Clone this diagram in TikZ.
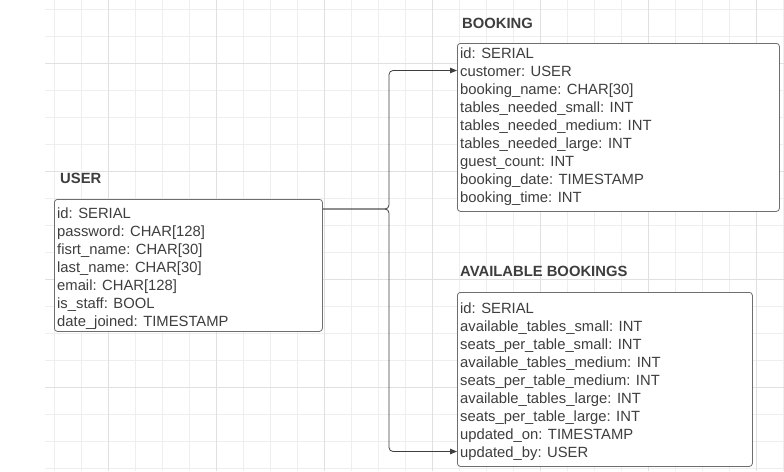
\documentclass[tikz,border=0pt]{standalone}
\usepackage{fontspec}
\setmainfont{Liberation Sans}
\usepackage{xcolor}
\usetikzlibrary{arrows.meta}
\definecolor{gridminor}{RGB}{238,238,238}
\definecolor{gridmajor}{RGB}{224,224,224}
\definecolor{ink}{RGB}{62,62,62}
\definecolor{edge}{RGB}{110,110,110}
\tikzset{
  tablebox/.style={draw=edge, line width=0.8pt, rounded corners=3pt, anchor=north west, fill=white},
  tabletitle/.style={anchor=base west, inner sep=0pt, text=ink, font=\fontsize{14.8}{18}\selectfont\bfseries},
  field/.style={anchor=base west, inner xsep=3pt, inner ysep=0pt, text height=11pt, text depth=0pt, text=ink, font=\fontsize{14.8}{18}\selectfont},
  link/.style={draw=ink, line width=0.8pt, rounded corners=4pt, -{Triangle[length=7pt,width=5.5pt]}},
}

\begin{document}
\begin{tikzpicture}[x=1pt,y=-1pt]
		\useasboundingbox (0,0) rectangle (784,471);
		%% Background grid
		\foreach \x in {54,81,...,783} \draw[gridminor, line width=0.6pt] (\x,0) -- (\x,471);
		\foreach \y in {9,36,...,468} \draw[gridminor, line width=0.6pt] (45,\y) -- (784,\y);
		\foreach \x in {108,216,...,756} \draw[gridmajor, line width=0.6pt] (\x,0) -- (\x,471);
		\foreach \y in {63,171,...,387} \draw[gridmajor, line width=0.6pt] (45,\y) -- (784,\y);

		%% USER
		\node[tabletitle] (user-title) at (60,183) {USER};
		\node[tablebox, minimum width=268pt, minimum height=132pt] (user) at (54,199) {};
		\foreach \t [count=\i] in {id: SERIAL, password: CHAR[128], fisrt\_name: CHAR[30],
			last\_name: CHAR[30], email: CHAR[128], is\_staff: BOOL, date\_joined: TIMESTAMP}
			\node[field] (us-\i) at (54,{200+18*\i}) {\t};

		%% BOOKING
		\node[tabletitle] (booking-title) at (462,28) {BOOKING};
		\node[tablebox, minimum width=322pt, minimum height=168pt] (booking) at (457,43) {};
		\foreach \t [count=\i] in {id: SERIAL, customer: USER, booking\_name: CHAR[30],
			tables\_needed\_small: INT, tables\_needed\_medium: INT, tables\_needed\_large: INT,
			guest\_count: INT, booking\_date: TIMESTAMP, booking\_time: INT}
			\node[field] (bk-\i) at (457,{40+18*\i}) {\t};

		%% AVAILABLE BOOKINGS
		\node[tabletitle] (avail-title) at (460,276) {AVAILABLE BOOKINGS};
		\node[tablebox, minimum width=295pt, minimum height=174pt] (avail) at (457,292) {};
		\foreach \t [count=\i] in {id: SERIAL, available\_tables\_small: INT, seats\_per\_table\_small: INT,
			available\_tables\_medium: INT, seats\_per\_table\_medium: INT, available\_tables\_large: INT,
			seats\_per\_table\_large: INT, updated\_on: TIMESTAMP, updated\_by: USER}
			\node[field] (av-\i) at (457,{295+18*\i}) {\t};

		%% USER referenced by customer and updated_by
		\coordinate (ustart) at ([yshift=-10pt]user.north east);
		\coordinate (split) at (389,209);
		\draw[link] (ustart) -- (split) |- (bk-2.west);
		\draw[link] (ustart) -- (split) |- (av-9.west);
	\end{tikzpicture}
\end{document}
